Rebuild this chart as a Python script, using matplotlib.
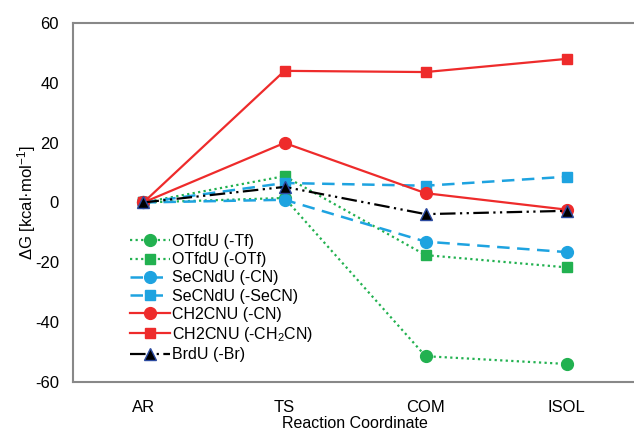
import numpy as np
import matplotlib
matplotlib.use("Agg")
import matplotlib.pyplot as plt

plt.rcParams['font.family'] = ['Liberation Sans', 'DejaVu Sans']
plt.rcParams['mathtext.default'] = 'regular'
plt.rcParams['axes.unicode_minus'] = False

# Datos
etapas = ['AR', 'TS', 'COM', 'ISOL']
otf_tf = [0, 1.5, -51.4, -54.0]
otf_otf = [0, 8.8, -17.6, -21.7]
secn_cn = [0, 0.9, -13.1, -16.6]
secn_secn = [0, 6.5, 5.6, 8.6]
ch2_cn = [0, 19.9, 3.1, -2.4]
ch2_ch2cn = [0, 44.0, 43.6, 48.0]
br_br = [0, 5.2, -3.9, -2.8]

verde = '#22b150'
azul = '#1ea3e0'
rojo = '#ee2b2b'

fig = plt.figure(figsize=(6.34, 4.34), dpi=100)
ax = fig.add_axes([0.115, 0.12, 0.89, 0.827])
x = np.arange(len(etapas))

ax.plot(x, otf_tf, linestyle=(0, (1, 1.5)), color=verde, lw=1.6, marker='o', ms=8.5, label='OTfdU (-Tf)')
ax.plot(x, otf_otf, linestyle=(0, (1, 1.5)), color=verde, lw=1.6, marker='s', ms=7.5, label='OTfdU (-OTf)')
ax.plot(x, secn_cn, linestyle=(0, (5, 3)), color=azul, lw=1.8, marker='o', ms=8.5, label='SeCNdU (-CN)')
ax.plot(x, secn_secn, linestyle=(0, (5, 3)), color=azul, lw=1.8, marker='s', ms=7.5, label='SeCNdU (-SeCN)')
ax.plot(x, ch2_cn, linestyle='-', color=rojo, lw=1.6, marker='o', ms=8.5, label='CH2CNU (-CN)')
ax.plot(x, ch2_ch2cn, linestyle='-', color=rojo, lw=1.6, marker='s', ms=7.5, label='CH2CNU (-CH$_2$CN)')
ax.plot(x, br_br, linestyle=(0, (7, 2, 1, 2, 1, 2)), color='black', lw=1.6, marker='^', ms=8,
        markeredgecolor='#2b4aa0', markeredgewidth=1, label='BrdU (-Br)')

ax.set_xlim(-0.5, 3.5)
ax.set_ylim(-60, 60)
ax.set_yticks(np.arange(-60, 61, 20))
ax.set_xticks(x)
ax.set_xticklabels(etapas)
ax.tick_params(length=0, labelsize=12, pad=10)
ax.tick_params(axis='x', pad=13)
for s in ax.spines.values():
    s.set_color('#888888')
    s.set_linewidth(1.5)

ax.set_xlabel('Reaction Coordinate', fontsize=11.5, labelpad=1)
ax.set_ylabel('ΔG [kcal·mol$^{-1}$]', fontsize=12, labelpad=-2)

ax.legend(loc='upper left', bbox_to_anchor=(0.09, 0.43), frameon=False, fontsize=11.5,
          handlelength=2.5, handletextpad=0.1, labelspacing=0.2, borderaxespad=0)

fig.savefig('out.png', dpi=100)
